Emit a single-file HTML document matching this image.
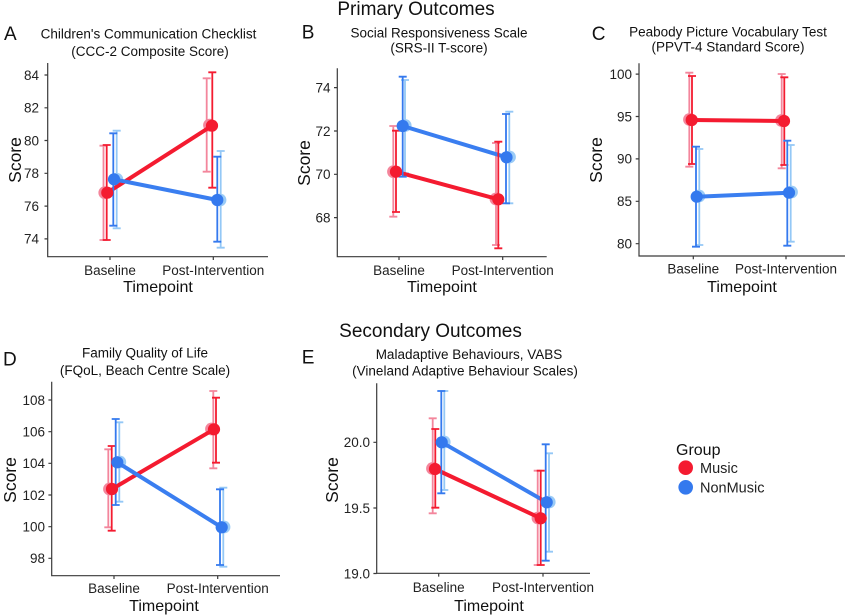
<!DOCTYPE html>
<html><head><meta charset="utf-8"><style>
html,body{margin:0;padding:0;background:#fff;}
svg{display:block;font-family:"Liberation Sans",Arial,sans-serif;}
.ax{fill:none;stroke:#3a3a3a;stroke-width:1.2}
.tk{font-size:13.5px;fill:#222;text-anchor:end}
.xl{font-size:13.5px;fill:#222;text-anchor:middle}
.xt{font-size:16px;fill:#111;text-anchor:middle}
.yt{font-size:17.5px;fill:#111;text-anchor:middle}
.ti{font-size:13.5px;fill:#111;text-anchor:middle}
.pl{font-size:19px;fill:#111}
.hd{font-size:19px;fill:#111;text-anchor:middle}
.lr{fill:none;stroke:#f3869c;stroke-width:1.8}
.lb{fill:none;stroke:#94c8f6;stroke-width:1.8}
.dr{fill:none;stroke:#f41b30;stroke-width:1.8}
.db{fill:none;stroke:#3479ee;stroke-width:1.8}
.Lr{stroke:#f41b30;stroke-width:4;fill:none}
.Lb{stroke:#3a7ef0;stroke-width:4;fill:none}
.pr{fill:#f4869c}
.pb{fill:#9acbf7}
.cr{fill:#f41b30}
.cb{fill:#3479ee}
</style></head><body>
<svg width="850" height="616" viewBox="0 0 850 616" xmlns="http://www.w3.org/2000/svg">
<!-- headers -->
<text class="hd" x="416" y="15">Primary Outcomes</text>
<text class="hd" x="430.5" y="337">Secondary Outcomes</text>

<!-- ===== Panel A ===== -->
<text class="pl" x="4" y="40">A</text>
<text class="ti" x="148.5" y="38.3">Children's Communication Checklist</text>
<text class="ti" x="150" y="56">(CCC-2 Composite Score)</text>
<path class="ax" d="M47.7,63 V256.7 H268 M44.5,75 H47.7 M44.5,107.8 H47.7 M44.5,140.5 H47.7 M44.5,173.3 H47.7 M44.5,206.1 H47.7 M44.5,238.9 H47.7 M110,256.7 V260 M213.3,256.7 V260"/>
<text class="tk" x="39" y="79.8">84</text>
<text class="tk" x="39" y="112.6">82</text>
<text class="tk" x="39" y="145.3">80</text>
<text class="tk" x="39" y="178.1">78</text>
<text class="tk" x="39" y="210.9">76</text>
<text class="tk" x="39" y="243.7">74</text>
<text class="xl" x="110" y="275">Baseline</text>
<text class="xl" x="213.3" y="275">Post-Intervention</text>
<text class="xt" x="158" y="292">Timepoint</text>
<text class="yt" transform="translate(21,160) rotate(-90)">Score</text>
<path class="lr" d="M103.5,145.7V240M99.5,145.7H107.5M99.5,240H107.5 M206.7,78.3V171.7M202.7,78.3H210.7M202.7,171.7H210.7"/>
<path class="lb" d="M116.7,130.7V228.3M112.7,130.7H120.7M112.7,228.3H120.7 M220.7,151V247.7M216.7,151H224.7M216.7,247.7H224.7"/>
<circle class="pr" cx="104.8" cy="192.7" r="6.4"/><circle class="pr" cx="209.5" cy="125.2" r="6.4"/>
<circle class="pb" cx="116.8" cy="179.3" r="6.4"/><circle class="pb" cx="220" cy="200" r="6.4"/>
<path class="Lr" d="M107.3,192.7 L212,125.7"/>
<path class="Lb" d="M114,179.3 L217.3,200"/>
<path class="dr" d="M106.7,145V240M102.7,145H110.7M102.7,240H110.7 M212.3,72.3V187.7M208.3,72.3H216.3M208.3,187.7H216.3"/>
<path class="db" d="M113.3,133.3V225.7M109.3,133.3H117.3M109.3,225.7H117.3 M217.3,156.7V241.7M213.3,156.7H221.3M213.3,241.7H221.3"/>
<circle class="cr" cx="107.3" cy="192.7" r="6.1"/><circle class="cr" cx="212" cy="125.7" r="6.1"/>
<circle class="cb" cx="114" cy="179.3" r="6.1"/><circle class="cb" cx="217.3" cy="200" r="6.1"/>

<!-- ===== Panel B ===== -->
<text class="pl" x="301.7" y="38.5">B</text>
<text class="ti" x="439" y="37.5">Social Responsiveness Scale</text>
<text class="ti" x="439" y="52.5">(SRS-II T-score)</text>
<path class="ax" d="M337.3,68.3 V256.7 H546.7 M334,87.6 H337.3 M334,131 H337.3 M334,174.3 H337.3 M334,217.6 H337.3 M399,256.7 V260 M502.7,256.7 V260"/>
<text class="tk" x="330.5" y="92.4">74</text>
<text class="tk" x="330.5" y="135.8">72</text>
<text class="tk" x="330.5" y="179.1">70</text>
<text class="tk" x="330.5" y="222.4">68</text>
<text class="xl" x="399" y="275">Baseline</text>
<text class="xl" x="502.7" y="275">Post-Intervention</text>
<text class="xt" x="442" y="292">Timepoint</text>
<text class="yt" transform="translate(310,163) rotate(-90)">Score</text>
<path class="lr" d="M393.3,126V216.7M389.3,126H397.3M389.3,216.7H397.3 M496,143V245M492,143H500M492,245H500"/>
<path class="lb" d="M405,80V173.3M401,80H409M401,173.3H409 M509.3,111.7V203.3M505.3,111.7H513.3M505.3,203.3H513.3"/>
<circle class="pr" cx="393.5" cy="171.7" r="6.4"/><circle class="pr" cx="496" cy="199" r="6.4"/>
<circle class="pb" cx="405.2" cy="125.5" r="6.4"/><circle class="pb" cx="509.5" cy="157" r="6.4"/>
<path class="Lr" d="M396,171.7 L498.3,199.3"/>
<path class="Lb" d="M402.7,126 L506.5,157.3"/>
<path class="dr" d="M396,130.7V212M392,130.7H400M392,212H400 M498.3,141.7V248.3M494.3,141.7H502.3M494.3,248.3H502.3"/>
<path class="db" d="M402.7,76.7V176.7M398.7,76.7H406.7M398.7,176.7H406.7 M506,114V203.3M502,114H510M502,203.3H510"/>
<circle class="cr" cx="396" cy="171.7" r="6.1"/><circle class="cr" cx="498.3" cy="199.3" r="6.1"/>
<circle class="cb" cx="402.7" cy="126" r="6.1"/><circle class="cb" cx="506.5" cy="157.3" r="6.1"/>

<!-- ===== Panel C ===== -->
<text class="pl" x="591.7" y="40">C</text>
<text class="ti" x="728" y="36.5">Peabody Picture Vocabulary Test</text>
<text class="ti" x="728" y="51.5">(PPVT-4 Standard Score)</text>
<path class="ax" d="M639,63.3 V256 H845 M635.7,74.1 H639 M635.7,116.5 H639 M635.7,158.9 H639 M635.7,201.3 H639 M635.7,243.7 H639 M693.3,256 V259.3 M786,256 V259.3"/>
<text class="tk" x="632" y="78.9">100</text>
<text class="tk" x="632" y="121.3">95</text>
<text class="tk" x="632" y="163.7">90</text>
<text class="tk" x="632" y="206.1">85</text>
<text class="tk" x="632" y="248.5">80</text>
<text class="xl" x="693.3" y="273.5">Baseline</text>
<text class="xl" x="786" y="273.5">Post-Intervention</text>
<text class="xt" x="742" y="292">Timepoint</text>
<text class="yt" transform="translate(602,160) rotate(-90)">Score</text>
<path class="lr" d="M689.3,72.7V166.7M685.3,72.7H693.3M685.3,166.7H693.3 M781.7,74V168.3M777.7,74H785.7M777.7,168.3H785.7"/>
<path class="lb" d="M699.3,149V245M695.3,149H703.3M695.3,245H703.3 M790.7,145V241.7M786.7,145H794.7M786.7,241.7H794.7"/>
<circle class="pr" cx="689.5" cy="119.5" r="6.4"/><circle class="pr" cx="781.5" cy="120.5" r="6.4"/>
<circle class="pb" cx="699" cy="196" r="6.4"/><circle class="pb" cx="791.5" cy="192" r="6.4"/>
<path class="Lr" d="M691.7,120 L784,121"/>
<path class="Lb" d="M696.7,196.7 L789,192.7"/>
<path class="dr" d="M692,76V164M688,76H696M688,164H696 M784.3,77.3V165M780.3,77.3H788.3M780.3,165H788.3"/>
<path class="db" d="M696,146.7V246.7M692,146.7H700M692,246.7H700 M787.3,140.7V245.7M783.3,140.7H791.3M783.3,245.7H791.3"/>
<circle class="cr" cx="691.7" cy="120" r="6.1"/><circle class="cr" cx="784" cy="121" r="6.1"/>
<circle class="cb" cx="696.7" cy="196.7" r="6.1"/><circle class="cb" cx="789" cy="192.7" r="6.1"/>

<!-- ===== Panel D ===== -->
<text class="pl" x="3" y="365.5">D</text>
<text class="ti" x="145" y="357.5">Family Quality of Life</text>
<text class="ti" x="145" y="375">(FQoL, Beach Centre Scale)</text>
<path class="ax" d="M51.7,381.7 V575.7 H280 M48.4,400 H51.7 M48.4,431.7 H51.7 M48.4,463.3 H51.7 M48.4,495 H51.7 M48.4,526.7 H51.7 M48.4,558.3 H51.7 M114,575.7 V579 M217.7,575.7 V579"/>
<text class="tk" x="45" y="404.8">108</text>
<text class="tk" x="45" y="436.5">106</text>
<text class="tk" x="45" y="468.1">104</text>
<text class="tk" x="45" y="499.8">102</text>
<text class="tk" x="45" y="531.5">100</text>
<text class="tk" x="45" y="563.1">98</text>
<text class="xl" x="114" y="593">Baseline</text>
<text class="xl" x="217.7" y="593">Post-Intervention</text>
<text class="xt" x="164" y="611">Timepoint</text>
<text class="yt" transform="translate(16,480) rotate(-90)">Score</text>
<path class="lr" d="M108.3,449.3V527.3M104.3,449.3H112.3M104.3,527.3H112.3 M213.3,391V468.3M209.3,391H217.3M209.3,468.3H217.3"/>
<path class="lb" d="M119.3,422.3V501.7M115.3,422.3H123.3M115.3,501.7H123.3 M223.3,487.7V566.7M219.3,487.7H227.3M219.3,566.7H227.3"/>
<circle class="pr" cx="109.5" cy="489" r="6.4"/><circle class="pr" cx="211.5" cy="429" r="6.4"/>
<circle class="pb" cx="119.8" cy="462" r="6.4"/><circle class="pb" cx="224" cy="527" r="6.4"/>
<path class="Lr" d="M112,489 L214,429.3"/>
<path class="Lb" d="M117.3,462.3 L221.7,527.3"/>
<path class="dr" d="M111.7,446V530.7M107.7,446H115.7M107.7,530.7H115.7 M216,397.7V462.7M212,397.7H220M212,462.7H220"/>
<path class="db" d="M115.7,419V505M111.7,419H119.7M111.7,505H119.7 M220,489.3V565M216,489.3H224M216,565H224"/>
<circle class="cr" cx="112" cy="489" r="6.1"/><circle class="cr" cx="214" cy="429.3" r="6.1"/>
<circle class="cb" cx="117.3" cy="462.3" r="6.1"/><circle class="cb" cx="221.7" cy="527.3" r="6.1"/>

<!-- ===== Panel E ===== -->
<text class="pl" x="301.7" y="363.5">E</text>
<text class="ti" x="469" y="359">Maladaptive Behaviours, VABS</text>
<text class="ti" x="465" y="375.5">(Vineland Adaptive Behaviour Scales)</text>
<path class="ax" d="M376.7,383.3 V573.3 H590 M373.4,442.3 H376.7 M373.4,508 H376.7 M373.4,573.5 H376.7 M438.7,573.3 V576.6 M543,573.3 V576.6"/>
<text class="tk" x="370" y="447.1">20.0</text>
<text class="tk" x="370" y="512.8">19.5</text>
<text class="tk" x="370" y="578.5">19.0</text>
<text class="xl" x="438.7" y="592">Baseline</text>
<text class="xl" x="543" y="592">Post-Intervention</text>
<text class="xt" x="489" y="611">Timepoint</text>
<text class="yt" transform="translate(338,480) rotate(-90)">Score</text>
<path class="lr" d="M432.7,418.3V513.3M428.7,418.3H436.7M428.7,513.3H436.7 M537.7,470.7V565M533.7,470.7H541.7M533.7,565H541.7"/>
<path class="lb" d="M444.3,391V490M440.3,391H448.3M440.3,490H448.3 M549,453.3V551.7M545,453.3H553M545,551.7H553"/>
<circle class="pr" cx="432.5" cy="468.5" r="6.4"/><circle class="pr" cx="538" cy="518" r="6.4"/>
<circle class="pb" cx="444.2" cy="442" r="6.4"/><circle class="pb" cx="549.2" cy="502" r="6.4"/>
<path class="Lr" d="M435,469 L540.7,518.3"/>
<path class="Lb" d="M441.7,442.3 L546.7,502.3"/>
<path class="dr" d="M435.3,429V507.7M431.3,429H439.3M431.3,507.7H439.3 M540.7,470.7V565M536.7,470.7H544.7M536.7,565H544.7"/>
<path class="db" d="M441.3,391V493.3M437.3,391H445.3M437.3,493.3H445.3 M545.7,444.3V560.7M541.7,444.3H549.7M541.7,560.7H549.7"/>
<circle class="cr" cx="435" cy="469" r="6.1"/><circle class="cr" cx="540.7" cy="518.3" r="6.1"/>
<circle class="cb" cx="441.7" cy="442.3" r="6.1"/><circle class="cb" cx="546.7" cy="502.3" r="6.1"/>

<!-- ===== Legend ===== -->
<text x="676" y="455" style="font-size:16px;fill:#111">Group</text>
<circle cx="685.7" cy="467.7" r="7.3" fill="#f41b30"/>
<circle cx="685.7" cy="487.3" r="7.3" fill="#3479ee"/>
<text x="700" y="473" style="font-size:14.5px;fill:#222">Music</text>
<text x="700" y="492.5" style="font-size:14.5px;fill:#222">NonMusic</text>
</svg>
</body></html>
